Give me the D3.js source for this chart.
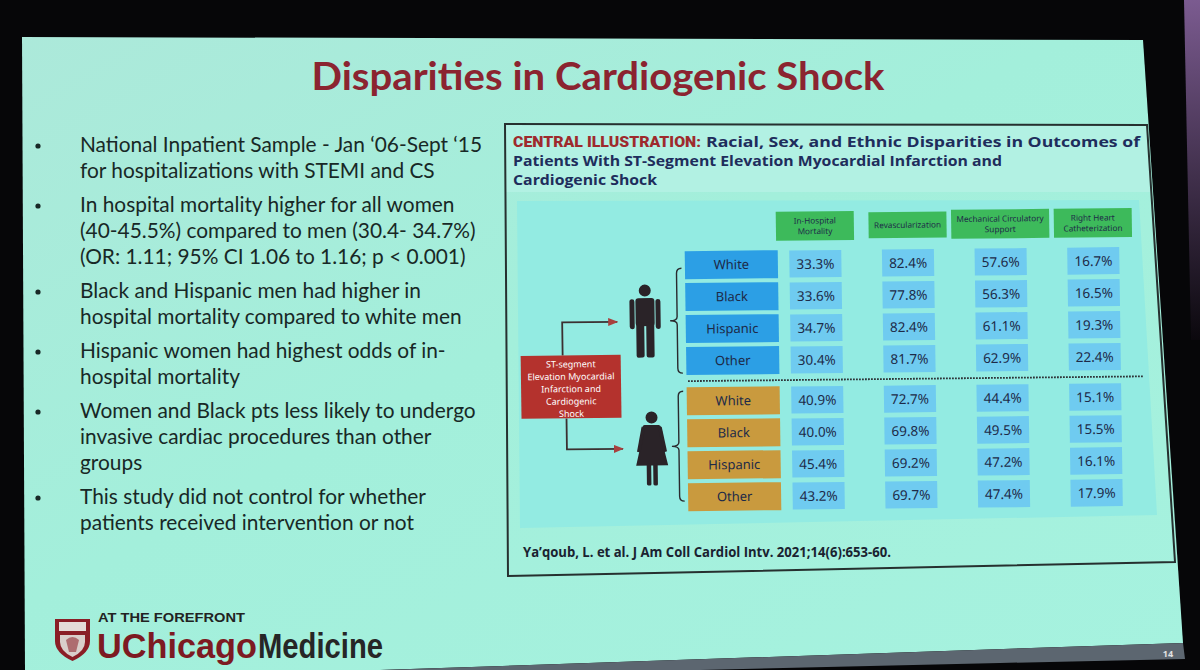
<!DOCTYPE html>
<html>
<head>
<meta charset="utf-8">
<script src="https://cdn.jsdelivr.net/npm/d3@7"></script>
<style>
  html, body { margin: 0; padding: 0; background: #060608; overflow: hidden; }
</style>
</head>
<body>
<div id="slide"></div>
<script>
// Data
var bullets = [
  ["National Inpatient Sample - Jan \u201806-Sept \u201815", "for hospitalizations with STEMI and CS"],
  ["In hospital mortality higher for all women", "(40-45.5%) compared to men (30.4- 34.7%)", "(OR: 1.11; 95% CI 1.06 to 1.16; p < 0.001)"],
  ["Black and Hispanic men had higher in", "hospital mortality compared to white men"],
  ["Hispanic women had highest odds of in-", "hospital mortality"],
  ["Women and Black pts less likely to undergo", "invasive cardiac procedures than other", "groups"],
  ["This study did not control for whether", "patients received intervention or not"]
];
var outcomes = ["In-Hospital Mortality", "Revascularization", "Mechanical Circulatory Support", "Right Heart Catheterization"];
var outcomeLabels = [["In-Hospital", "Mortality"], ["Revascularization"], ["Mechanical Circulatory", "Support"], ["Right Heart", "Catheterization"]];
var races = ["White", "Black", "Hispanic", "Other"];
var sexes = ["Men", "Women"];
var menValues = [
  [33.3, 82.4, 57.6, 16.7],
  [33.6, 77.8, 56.3, 16.5],
  [34.7, 82.4, 61.1, 19.3],
  [30.4, 81.7, 62.9, 22.4]
];
var womenValues = [
  [40.9, 72.7, 44.4, 15.1],
  [40.0, 69.8, 49.5, 15.5],
  [45.4, 69.2, 47.2, 16.1],
  [43.2, 69.7, 47.4, 17.9]
];
var stemiLines = ["ST-segment", "Elevation Myocardial", "Infarction and", "Cardiogenic", "Shock"];

var W = 1200, H = 670;
var navy = "#1d2a48";

var svg = d3.select("#slide").append("svg")
  .attr("width", W)
  .attr("height", H);
var defs = svg.append("defs");

// room behind the screen
svg.append("rect").attr("width", W).attr("height", H).attr("fill", "#060608");
var pg = defs.append("linearGradient").attr("id", "purple")
  .attr("x1", 0).attr("y1", 0).attr("x2", 0).attr("y2", 1);
pg.append("stop").attr("offset", "0%").attr("stop-color", "#7b5b90");
pg.append("stop").attr("offset", "100%").attr("stop-color", "#0b080d");
svg.append("polygon")
  .attr("points", "1184,0 1200,0 1200,340 1191,340")
  .attr("fill", "url(#purple)");

// slide
var sg = defs.append("linearGradient").attr("id", "mint")
  .attr("x1", 0).attr("y1", 0).attr("x2", 1).attr("y2", 1);
sg.append("stop").attr("offset", "0%").attr("stop-color", "#ace9da");
sg.append("stop").attr("offset", "45%").attr("stop-color", "#a3efdb");
sg.append("stop").attr("offset", "100%").attr("stop-color", "#a6f2df");
svg.append("polygon")
  .attr("points", "22,37 1143,40 1183,643 380,670 25,670")
  .attr("fill", "url(#mint)");
svg.append("polygon")
  .attr("points", "380,670 1183,643 1185,659 1000,663 700,670")
  .attr("fill", "#5c6670");
svg.append("text")
  .attr("x", 1168).attr("y", 657)
  .attr("font-family", "Noto Sans").attr("font-size", 9).attr("font-weight", 700)
  .attr("fill", "#e2e2e2").attr("text-anchor", "middle")
  .text("14");

// title
svg.append("text")
  .attr("x", 598).attr("y", 90)
  .attr("text-anchor", "middle")
  .attr("font-family", "Lato").attr("font-weight", 700).attr("font-size", 39)
  .attr("fill", "#8b2430")
  .attr("textLength", 573).attr("lengthAdjust", "spacingAndGlyphs")
  .text("Disparities in Cardiogenic Shock");

// bullet list
var lines = [];
var yy = 152;
bullets.forEach(function (b) {
  b.forEach(function (t, j) {
    lines.push({ text: t, y: yy, first: j === 0 });
    yy += 26;
  });
  yy += 8;
});

var bulletG = svg.append("g")
  .attr("font-family", "Lato").attr("font-size", 21.5).attr("fill", "#182826");
bulletG.selectAll("circle.dot")
  .data(lines.filter(function (d) { return d.first; }))
  .enter().append("circle")
  .attr("class", "dot")
  .attr("cx", 38).attr("cy", function (d) { return d.y - 6; })
  .attr("r", 2.6).attr("fill", "#182826");
var bt = bulletG.selectAll("text")
  .data(lines)
  .enter().append("text")
  .attr("x", 80).attr("y", function (d) { return d.y; })
  .text(function (d) { return d.text; });
var k = 402 / bt.node().getComputedTextLength();
bt.each(function () {
  var len = this.getComputedTextLength();
  d3.select(this).attr("textLength", len * k).attr("lengthAdjust", "spacingAndGlyphs");
});

// central illustration box
svg.append("polygon")
  .attr("points", "505,125 1147,125 1150,192 506,192")
  .attr("fill", "#b2f1e3");
svg.append("polygon")
  .attr("points", "517,201 1139,200 1157,515 520,528")
  .attr("fill", "#93ebe2");
svg.append("polygon")
  .attr("points", "505,124 1147,125 1175,562 508,576")
  .attr("fill", "none").attr("stroke", "#26302f").attr("stroke-width", 2);

svg.append("text")
  .attr("x", 513).attr("y", 147)
  .attr("font-family", "Roboto").attr("font-weight", 900).attr("font-size", 15)
  .attr("fill", "#9e2a2d")
  .attr("textLength", 188).attr("lengthAdjust", "spacingAndGlyphs")
  .text("CENTRAL ILLUSTRATION:");
var headLines = [
  { text: "Racial, Sex, and Ethnic Disparities in Outcomes of", x: 706, y: 147, w: 434 },
  { text: "Patients With ST-Segment Elevation Myocardial Infarction and", x: 513, y: 166, w: 489 },
  { text: "Cardiogenic Shock", x: 513, y: 185, w: 144 }
];
svg.selectAll("text.head")
  .data(headLines)
  .enter().append("text")
  .attr("class", "head")
  .attr("x", function (d) { return d.x; })
  .attr("y", function (d) { return d.y; })
  .attr("font-family", "Open Sans").attr("font-weight", 700).attr("font-size", 15)
  .attr("fill", "#1e2d5c")
  .attr("textLength", function (d) { return d.w; })
  .attr("lengthAdjust", "spacingAndGlyphs")
  .text(function (d) { return d.text; });

svg.append("text")
  .attr("x", 523).attr("y", 557)
  .attr("font-family", "Open Sans").attr("font-weight", 700).attr("font-size", 14.5)
  .attr("fill", "#1a2230")
  .attr("textLength", 368).attr("lengthAdjust", "spacingAndGlyphs")
  .text("Ya\u2019qoub, L. et al. J Am Coll Cardiol Intv. 2021;14(6):653-60.");

// figure: scales
var fig = svg.append("g")
  .attr("transform", "translate(700,380) skewY(-0.6) skewX(0.8) translate(-700,-380)");

var x = d3.scaleBand().domain(outcomes).range([770.7, 1141.3]);
var ySex = d3.scaleBand().domain(sexes).range([249, 513]).paddingInner(0.06);
var yRace = d3.scaleBand().domain(races).range([0, ySex.bandwidth()]);

var rows = [];
sexes.forEach(function (s, i) {
  races.forEach(function (r, j) {
    rows.push({ sex: s, race: r, values: (i === 0 ? menValues : womenValues)[j] });
  });
});
function rowY(d) { return ySex(d.sex) + yRace(d.race) + yRace.bandwidth() / 2; }
function colX(o) { return x(o) + x.bandwidth() / 2; }

// column headers
var hdr = fig.selectAll("g.hdr")
  .data(outcomes)
  .enter().append("g")
  .attr("class", "hdr")
  .attr("transform", function (d) { return "translate(" + colX(d) + ",227)"; });
hdr.append("rect").attr("fill", "#3dba5b");
hdr.each(function (d, i) {
  var g = d3.select(this);
  var lab = outcomeLabels[i];
  var t = g.append("text")
    .attr("text-anchor", "middle")
    .attr("font-family", "Noto Sans").attr("font-size", 8.2)
    .attr("fill", navy);
  lab.forEach(function (l, j) {
    t.append("tspan").attr("x", 0)
      .attr("y", (j - (lab.length - 1) / 2) * 10.5 + 3)
      .text(l);
  });
  var bw = Math.max(78, t.node().getBBox().width + 10);
  var bh = lab.length > 1 ? 29 : 26;
  g.select("rect").attr("x", -bw / 2).attr("y", -bh / 2).attr("width", bw).attr("height", bh);
});

// race label boxes
var raceCx = 733;
var rowG = fig.selectAll("g.row")
  .data(rows)
  .enter().append("g")
  .attr("class", "row")
  .attr("transform", function (d) { return "translate(0," + rowY(d) + ")"; });
rowG.append("rect")
  .attr("x", raceCx - 46.5).attr("y", -14)
  .attr("width", 93).attr("height", 28)
  .attr("fill", function (d) { return d.sex === "Men" ? "#2c9fe5" : "#c99a3e"; });
rowG.append("text")
  .attr("x", raceCx).attr("y", 4.5)
  .attr("text-anchor", "middle")
  .attr("font-family", "Noto Sans").attr("font-size", 13)
  .attr("fill", navy)
  .text(function (d) { return d.race; });

// value cells
var cell = rowG.selectAll("g.cell")
  .data(function (d) { return d.values.map(function (v, i) { return { o: outcomes[i], v: v }; }); })
  .enter().append("g")
  .attr("class", "cell")
  .attr("transform", function (d) { return "translate(" + colX(d.o) + ",0)"; });
cell.append("rect")
  .attr("x", -26).attr("y", -13.5)
  .attr("width", 52).attr("height", 27)
  .attr("fill", "#6fcbf0");
cell.append("text")
  .attr("text-anchor", "middle").attr("y", 5)
  .attr("font-family", "Noto Sans").attr("font-size", 13.5)
  .attr("fill", navy)
  .text(function (d) { return d3.format(".1f")(d.v) + "%"; });

// divider between men and women
var divY = (ySex("Men") + ySex.bandwidth() + ySex("Women")) / 2;
fig.append("line")
  .attr("x1", 688).attr("x2", 1143)
  .attr("y1", divY).attr("y2", divY)
  .attr("stroke", "#2e3438").attr("stroke-width", 1.8)
  .attr("stroke-dasharray", "1.8,1.2");

// braces
var braceOff = { Men: [3, 12], Women: [-10, 4] };
function bracePath(x0, y0, y1, tip) {
  var xb = x0 - 5, ym = (y0 + y1) / 2;
  return "M" + x0 + "," + y0 + " Q" + xb + "," + y0 + " " + xb + "," + (y0 + 5) +
    " L" + xb + "," + (ym - 4) + " Q" + xb + "," + ym + " " + tip + "," + ym +
    " Q" + xb + "," + ym + " " + xb + "," + (ym + 4) +
    " L" + xb + "," + (y1 - 5) + " Q" + xb + "," + y1 + " " + x0 + "," + y1;
}
fig.selectAll("path.brace")
  .data(sexes)
  .enter().append("path")
  .attr("class", "brace")
  .attr("d", function (s) {
    var y0 = ySex(s) + yRace(races[0]) + yRace.bandwidth() / 2 + braceOff[s][0];
    var y1 = ySex(s) + yRace(races[races.length - 1]) + yRace.bandwidth() / 2 + braceOff[s][1];
    return bracePath(683, y0, y1, 671);
  })
  .attr("fill", "none").attr("stroke", "#2a2a2e").attr("stroke-width", 1.4);

// people icons
var ink = "#2a2328";
var man = fig.append("g").attr("transform", "translate(646,284)").attr("fill", ink);
man.append("circle").attr("cx", 0).attr("cy", 6).attr("r", 6);
man.append("rect").attr("x", -9.5).attr("y", 13.5).attr("width", 19).attr("height", 28).attr("rx", 3);
man.append("rect").attr("x", -15.5).attr("y", 14.5).attr("width", 5).attr("height", 30).attr("rx", 2.5);
man.append("rect").attr("x", 10.5).attr("y", 14.5).attr("width", 5).attr("height", 30).attr("rx", 2.5);
man.append("rect").attr("x", -9).attr("y", 38).attr("width", 8).attr("height", 35).attr("rx", 2);
man.append("rect").attr("x", 1).attr("y", 38).attr("width", 8).attr("height", 35).attr("rx", 2);

var woman = fig.append("g").attr("transform", "translate(651,411)").attr("fill", ink);
woman.append("circle").attr("cx", 0).attr("cy", 6).attr("r", 6);
woman.append("path").attr("d", "M-7,13.5 L7,13.5 Q10,14 10.5,20 L11,33 L16,54 L-16,54 L-11,33 L-10.5,20 Q-10,14 -7,13.5 Z");
woman.append("path").attr("d", "M-10,15 L-15,40 L-11.5,41 L-7,19 Z");
woman.append("path").attr("d", "M10,15 L15,40 L11.5,41 L7,19 Z");
woman.append("rect").attr("x", -5.5).attr("y", 52).attr("width", 4.5).attr("height", 22).attr("rx", 1.5);
woman.append("rect").attr("x", 1).attr("y", 52).attr("width", 4.5).attr("height", 22).attr("rx", 1.5);

// STEMI box and arrows
defs.append("marker")
  .attr("id", "arrow")
  .attr("markerUnits", "userSpaceOnUse")
  .attr("markerWidth", 10).attr("markerHeight", 8)
  .attr("refX", 9).attr("refY", 4)
  .attr("orient", "auto")
  .append("path").attr("d", "M0,0 L10,4 L0,8 Z").attr("fill", "#a8403e");

fig.append("path")
  .attr("d", "M563,354 L563,321 L618,321")
  .attr("fill", "none").attr("stroke", "#3b3031").attr("stroke-width", 1.8)
  .attr("marker-end", "url(#arrow)");
fig.append("path")
  .attr("d", "M566,417 L566,448 L622,448")
  .attr("fill", "none").attr("stroke", "#3b3031").attr("stroke-width", 1.8)
  .attr("marker-end", "url(#arrow)");

fig.append("rect")
  .attr("x", 521).attr("y", 354)
  .attr("width", 100).attr("height", 63)
  .attr("fill", "#b4322d");
fig.selectAll("text.stemi")
  .data(stemiLines)
  .enter().append("text")
  .attr("class", "stemi")
  .attr("x", 571)
  .attr("y", function (d, i) { return 366 + i * 12.4; })
  .attr("text-anchor", "middle")
  .attr("font-family", "Noto Sans").attr("font-size", 9)
  .attr("fill", "#ffffff")
  .text(function (d) { return d; });

// UChicago Medicine logo
var logo = svg.append("g");
logo.append("path")
  .attr("d", "M55,619 L90,619 L90,641 Q90,653 72.5,661 Q55,653 55,641 Z")
  .attr("fill", "#8a1e26");
logo.append("rect").attr("x", 59).attr("y", 622).attr("width", 27).attr("height", 9).attr("fill", "#e4dcd8");
logo.append("path")
  .attr("d", "M60,635 L85,635 L85,642 Q85,651 72.5,657 Q60,651 60,642 Z")
  .attr("fill", "#d9cfcb");
logo.append("path")
  .attr("d", "M66,640 Q72.5,634 79,640 L76,652 L69,652 Z")
  .attr("fill", "#8a1e26").attr("opacity", 0.55);
logo.append("text")
  .attr("x", 98).attr("y", 622)
  .attr("font-family", "Liberation Sans").attr("font-weight", 700).attr("font-size", 12)
  .attr("fill", "#222222")
  .attr("textLength", 147).attr("lengthAdjust", "spacingAndGlyphs")
  .text("AT THE FOREFRONT");
logo.append("text")
  .attr("x", 97).attr("y", 658)
  .attr("font-family", "Liberation Sans").attr("font-weight", 700).attr("font-size", 35)
  .attr("fill", "#7d1a22")
  .attr("textLength", 160).attr("lengthAdjust", "spacingAndGlyphs")
  .text("UChicago");
logo.append("text")
  .attr("x", 258).attr("y", 658)
  .attr("font-family", "Liberation Sans").attr("font-weight", 700).attr("font-size", 35)
  .attr("fill", "#262626")
  .attr("textLength", 125).attr("lengthAdjust", "spacingAndGlyphs")
  .text("Medicine");
</script>
</body>
</html>
